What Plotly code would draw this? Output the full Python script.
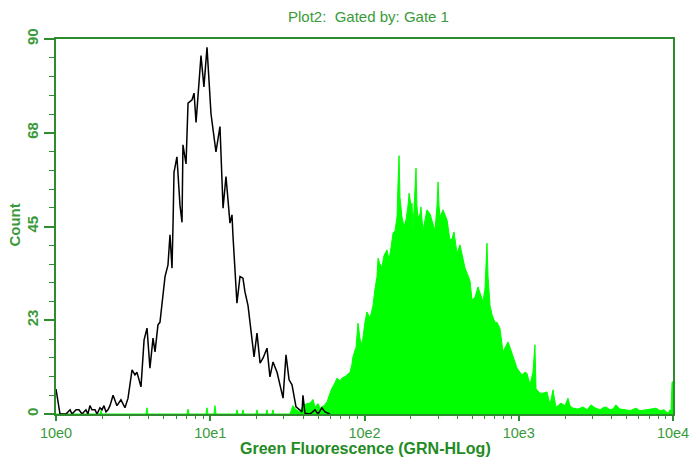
import plotly.graph_objects as go

# ---- data (x positions in decades of fluorescence, y = counts) ----
black_decade = [0.000, 0.013, 0.026, 0.065, 0.091, 0.104, 0.130, 0.149, 0.169, 0.194,
                0.207, 0.220, 0.233, 0.253, 0.266, 0.285, 0.298, 0.311, 0.324, 0.337,
                0.350, 0.370, 0.395, 0.421, 0.447, 0.467, 0.493, 0.512, 0.525, 0.551,
                0.571, 0.590, 0.609, 0.629, 0.642, 0.661, 0.674, 0.707, 0.726, 0.739,
                0.752, 0.759, 0.765, 0.784, 0.804, 0.817, 0.823, 0.843, 0.856, 0.882,
                0.895, 0.908, 0.940, 0.959, 0.979, 1.005, 1.037, 1.063, 1.083, 1.102,
                1.128, 1.141, 1.147, 1.173, 1.193, 1.212, 1.225, 1.245, 1.264, 1.284,
                1.303, 1.323, 1.342, 1.368, 1.387, 1.407, 1.433, 1.452, 1.472, 1.491,
                1.511, 1.530, 1.556, 1.595, 1.601, 1.614, 1.647, 1.679, 1.699, 1.724,
                1.744, 1.776]
black_count = [6, 3, 0, 0, 1, 0, 1, 1, 0, 1,
               0, 2, 1, 1, 0, 1.5, 1, 2, 0.5, 1,
               2, 4.5, 2, 3.4, 1.5, 3.8, 10.6, 9.4, 10, 6.5,
               17.8, 20.6, 11, 18.2, 14.9, 21.4, 22, 33, 35.8, 43,
               35, 46, 58, 61.7, 50, 46, 64.6, 60, 74.6, 75.4,
               77, 70, 86, 78.5, 88, 72, 62.9, 69, 49.4, 57,
               45.8, 47.8, 43, 26.6, 33, 32.6, 29.3, 26, 20, 13.7,
               19.4, 12.2, 13.4, 15.8, 8.9, 12.5, 10, 7, 3.8, 14.2,
               8.2, 7, 1.7, 0.5, 4.5, 0.2, 0, 1, 0, 1.5,
               0.5, 0]

green_decade = [0.000, 0.285, 0.292, 0.298, 0.583, 0.590, 0.596, 0.849, 0.856, 0.862,
                0.972, 0.979, 0.985, 1.024, 1.031, 1.037, 1.167, 1.173, 1.180, 1.206,
                1.212, 1.219, 1.297, 1.303, 1.310, 1.361, 1.368, 1.374, 1.400, 1.407,
                1.413, 1.517, 1.536, 1.556, 1.582, 1.601, 1.627, 1.647, 1.666, 1.679,
                1.699, 1.711, 1.737, 1.757, 1.776, 1.789, 1.809, 1.822, 1.841, 1.854,
                1.874, 1.887, 1.906, 1.919, 1.925, 1.945, 1.958, 1.971, 1.984, 2.003,
                2.016, 2.036, 2.055, 2.068, 2.081, 2.088, 2.100, 2.113, 2.126, 2.146,
                2.159, 2.172, 2.185, 2.198, 2.211, 2.217, 2.224, 2.230, 2.243, 2.256,
                2.269, 2.282, 2.289, 2.302, 2.308, 2.314, 2.327, 2.334, 2.340, 2.347,
                2.360, 2.366, 2.379, 2.392, 2.405, 2.425, 2.438, 2.457, 2.470, 2.477,
                2.483, 2.490, 2.509, 2.522, 2.535, 2.554, 2.567, 2.580, 2.600, 2.619,
                2.639, 2.652, 2.665, 2.684, 2.697, 2.716, 2.736, 2.749, 2.768, 2.781,
                2.794, 2.801, 2.814, 2.827, 2.846, 2.859, 2.878, 2.898, 2.911, 2.930,
                2.943, 2.963, 2.989, 3.008, 3.021, 3.041, 3.053, 3.073, 3.092, 3.105,
                3.112, 3.138, 3.157, 3.183, 3.203, 3.222, 3.241, 3.254, 3.274, 3.300,
                3.319, 3.332, 3.352, 3.384, 3.417, 3.443, 3.468, 3.494, 3.527, 3.546,
                3.566, 3.592, 3.611, 3.630, 3.656, 3.695, 3.721, 3.760, 3.786, 3.825,
                3.851, 3.890, 3.916, 3.942, 3.968, 3.981, 3.987, 3.994, 4.000]
green_count = [0, 0, 0.8, 0, 0, 1.5, 0, 0, 1.2, 0,
               0, 1.5, 0, 0, 2, 0, 0, 1, 0, 0,
               1, 0, 0, 1, 0, 0, 1, 0, 0, 1,
               0, 0, 2, 1, 0.5, 2, 2.5, 2.6, 3.5, 1.7,
               2.5, 1.4, 2, 2.9, 5, 6.2, 7.5, 8.6, 8, 8.6,
               9, 9.4, 10, 12, 13.7, 16, 21.8, 18, 16.6, 22,
               24.5, 23, 26, 30, 33, 37.4, 36, 35.3, 38, 39.4,
               37, 40, 43.4, 44, 47.3, 55, 62, 52, 47.3, 45,
               46.6, 50, 53, 50, 50.6, 44, 52, 59, 50, 47,
               48, 49.7, 44, 47, 49, 48, 46.6, 44, 50, 55.7,
               50, 47.3, 49, 48, 46.6, 41.8, 42, 43.7, 38.6, 40.6,
               37, 35, 33.8, 32, 27.4, 28, 30.5, 29, 27, 30,
               41, 33, 26, 23.8, 22, 22, 20.6, 14.9, 16, 17.3,
               16, 14, 11, 10, 9.4, 10, 9.8, 7, 10, 16.6,
               6, 5, 5, 5.3, 2.2, 5.8, 1.7, 2, 2.6, 2,
               3.8, 2, 1.4, 1.2, 1.7, 1, 2.2, 1.5, 1, 1.5,
               1.7, 1, 1.2, 2.2, 1.2, 1, 0.8, 1.4, 0.8, 1,
               1.2, 1.4, 0.8, 1, 0.2, 1, 0.5, 7.7, 7.7]

x_tick_vals = [1, 10, 100, 1000, 10000]
x_tick_text = ["10e0", "10e1", "10e2", "10e3", "10e4"]
y_tick_vals = [0, 22.5, 45, 67.5, 90]
y_tick_text = ["0", "23", "45", "68", "90"]

FRAME = "#2e8b2e"
LABEL = "#3a9a3a"
FONT = "Liberation Sans, Arial, sans-serif"

fig = go.Figure()
fig.add_trace(go.Scatter(
    x=[10 ** d for d in green_decade], y=green_count,
    mode="lines", fill="tozeroy", fillcolor="#00ff00",
    line=dict(color="#00ff00", width=1), showlegend=False))
fig.add_trace(go.Scatter(
    x=[10 ** d for d in black_decade], y=black_count,
    mode="lines", line=dict(color="#000000", width=1.5), showlegend=False))

minor_x = [m * 10 ** e for e in range(4) for m in range(2, 10)]

fig.update_layout(
    width=693, height=461,
    margin=dict(l=56, r=20, t=39, b=47, autoexpand=False),
    paper_bgcolor="white", plot_bgcolor="white",
    font=dict(family=FONT, color=LABEL),
    xaxis=dict(type="log", range=[0, 4], showgrid=False, zeroline=False,
               automargin=False,
               showline=True, mirror=True, linecolor=FRAME, linewidth=1.5,
               ticks="outside", ticklen=5, tickwidth=1.5, tickcolor=FRAME,
               tickmode="array", tickvals=x_tick_vals, ticktext=x_tick_text,
               tickfont=dict(size=14.5, color=LABEL, family=FONT),
               minor=dict(tickmode="array", tickvals=minor_x, ticks="outside",
                          ticklen=3, tickwidth=1, tickcolor=FRAME, showgrid=False)),
    yaxis=dict(range=[0, 90], showgrid=False, zeroline=False,
               automargin=False,
               showline=True, mirror=True, linecolor=FRAME, linewidth=1.5,
               ticks="outside", ticklen=10, tickwidth=1.5, tickcolor=FRAME,
               tickmode="array", tickvals=y_tick_vals, ticktext=y_tick_text,
               tickangle=-90,
               tickfont=dict(size=15, color=LABEL, family=FONT, weight="bold"),
               minor=dict(dtick=4.5, ticks="outside", ticklen=5, tickwidth=1,
                          tickcolor=FRAME, showgrid=False)),
    annotations=[
        dict(text="Plot2:  Gated by: Gate 1", xref="paper", yref="paper",
             x=0.506, y=1.061, xanchor="center", yanchor="middle", showarrow=False,
             font=dict(size=15, color=LABEL, family=FONT)),
        dict(text="<b>Green Fluorescence (GRN-HLog)</b>", xref="paper", yref="paper",
             x=0.501, y=-0.092, xanchor="center", yanchor="middle", showarrow=False,
             font=dict(size=16, color="#238b23", family=FONT)),
        dict(text="<b>Count</b>", xref="paper", yref="paper",
             x=-0.0665, y=0.505, xanchor="center", yanchor="middle", showarrow=False,
             textangle=-90, font=dict(size=15, color=LABEL, family=FONT)),
    ],
)

fig.write_html("out.html", config={"displayModeBar": False},
               post_script="document.body.style.margin='0px';document.body.style.padding='0px';")
